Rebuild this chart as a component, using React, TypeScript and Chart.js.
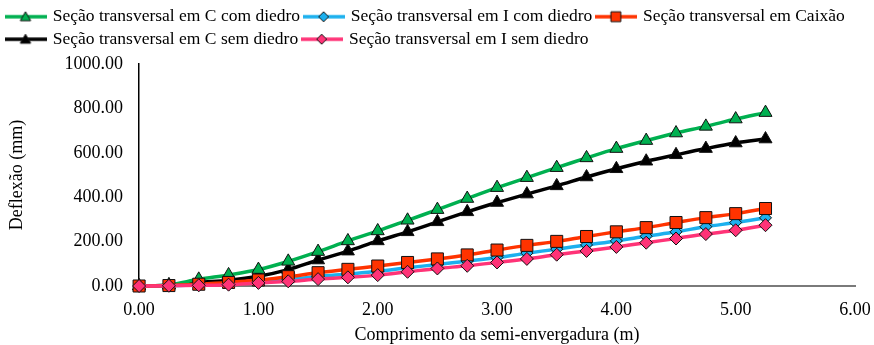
import React, { useEffect, useRef } from "react";
import { Chart, registerables } from "chart.js";
Chart.register(...registerables);

const xValues = [0, 0.25, 0.5, 0.75, 1.0, 1.25, 1.5, 1.75, 2.0, 2.25, 2.5, 2.75, 3.0, 3.25, 3.5, 3.75, 4.0, 4.25, 4.5, 4.75, 5.0, 5.25];

const cComDiedro = [0, 5, 30, 50, 74, 111, 155, 203, 248, 296, 344, 394, 443, 488, 533, 577, 619, 655, 689, 719, 752, 781];
const iComDiedro = [0, 1, 5, 10, 19, 29, 43, 54, 66, 82, 97, 112, 128, 148, 166, 185, 203, 224, 244, 267, 286, 307];
const caixao = [0, 2, 8, 16, 27, 42, 60, 75, 90, 106, 122, 140, 162, 183, 201, 223, 244, 263, 286, 308, 326, 349];
const cSemDiedro = [0, 3, 16, 26, 44, 74, 117, 157, 203, 244, 289, 334, 376, 414, 451, 491, 528, 562, 591, 619, 644, 662];
const iSemDiedro = [0, 1, 3, 6, 14, 21, 31, 39, 49, 64, 79, 91, 106, 122, 141, 158, 176, 195, 214, 234, 251, 274];

const seriesLabels = [
  "Seção transversal em C com diedro",
  "Seção transversal em I com diedro",
  "Seção transversal em Caixão",
  "Seção transversal em C sem diedro",
  "Seção transversal em I sem diedro",
];

const FONT = "'Liberation Serif', 'Times New Roman', serif";
const FS = 18;

function drawShape(ctx: CanvasRenderingContext2D, style: string, x: number, y: number, r: number) {
  ctx.beginPath();
  if (style === "triangle") {
    ctx.moveTo(x, y - r);
    ctx.lineTo(x + r * 0.866, y + r * 0.5);
    ctx.lineTo(x - r * 0.866, y + r * 0.5);
    ctx.closePath();
  } else if (style === "rect") {
    const s = r * Math.SQRT1_2;
    ctx.rect(x - s, y - s, 2 * s, 2 * s);
  } else {
    ctx.moveTo(x, y - r);
    ctx.lineTo(x + r, y);
    ctx.lineTo(x, y + r);
    ctx.lineTo(x - r, y);
    ctx.closePath();
  }
  ctx.fill();
  ctx.stroke();
}

function makeIcon(color: string, fill: string, style: string, r: number) {
  const c = document.createElement("canvas");
  c.width = 42;
  c.height = 16;
  const ctx = c.getContext("2d")!;
  ctx.strokeStyle = color;
  ctx.lineWidth = 3.5;
  ctx.beginPath();
  ctx.moveTo(0, 8);
  ctx.lineTo(42, 8);
  ctx.stroke();
  ctx.fillStyle = fill;
  ctx.strokeStyle = "#111";
  ctx.lineWidth = 1;
  drawShape(ctx, style, 21, style === "triangle" ? 9 : 8, r);
  return c;
}

const legendSpacer = {
  id: "legendSpacer",
  beforeInit(chart: any) {
    const legend = chart.legend;
    if (!legend) return;
    const origFit = legend.fit;
    legend.fit = function () {
      origFit.call(this);
      this.height += 6;
    };
  },
};

export default function App() {
  const ref = useRef<HTMLCanvasElement>(null);
  useEffect(() => {
    document.body.style.margin = "0";
    const defs = [
      { values: cComDiedro, color: "#00B050", fill: "#00B050", style: "triangle", radius: 7.5, order: 3, lr: 6 },
      { values: iComDiedro, color: "#1CB0EE", fill: "#1CB0EE", style: "rectRot", radius: 6, order: 2, lr: 5 },
      { values: caixao, color: "#FF3300", fill: "#FF3300", style: "rect", radius: 8.5, order: 1, lr: 7 },
      { values: cSemDiedro, color: "#000000", fill: "#000000", style: "triangle", radius: 7.5, order: 4, lr: 6 },
      { values: iSemDiedro, color: "#FF3377", fill: "#FF3377", style: "rectRot", radius: 6.5, order: 0, lr: 5 },
    ];
    const icons = defs.map((d) => makeIcon(d.color, d.fill, d.style, d.lr));
    const chart = new Chart(ref.current!, {
      type: "line",
      plugins: [legendSpacer],
      data: {
        datasets: defs.map((d, i) => ({
          label: seriesLabels[i],
          data: xValues.map((x, j) => ({ x, y: d.values[j] })),
          borderColor: d.color,
          backgroundColor: d.fill,
          pointBackgroundColor: d.fill,
          pointBorderColor: "#111",
          pointBorderWidth: 1,
          pointStyle: d.style as any,
          pointRadius: d.radius,
          borderWidth: 3.5,
          tension: 0.35,
          order: d.order,
          clip: false as any,
        })),
      },
      options: {
        animation: false,
        responsive: false,
        layout: { padding: { left: 2, right: 2, top: 3, bottom: 0 } },
        plugins: {
          tooltip: { enabled: false },
          legend: {
            position: "top",
            align: "start",
            labels: {
              font: { family: FONT, size: 17.5 },
              color: "#000",
              usePointStyle: true,
              pointStyleWidth: 37,
              padding: 5,
              sort: (a: any, b: any) => a.datasetIndex - b.datasetIndex,
              generateLabels: (ch: any) => {
                const items = (Chart.defaults.plugins.legend.labels as any).generateLabels(ch);
                return items.map((it: any) => ({ ...it, pointStyle: icons[it.datasetIndex] }));
              },
            },
          },
        },
        scales: {
          x: {
            type: "linear",
            min: 0,
            max: 6,
            afterFit: (scale: any) => {
              scale.paddingRight = 19;
            },
            ticks: {
              stepSize: 1,
              callback: (v: any) => Number(v).toFixed(2),
              font: { family: FONT, size: FS },
              color: "#000",
              padding: 13.4,
            },
            grid: { display: false, drawTicks: false },
            border: { display: true, color: "#7a7a7a", width: 2 },
            title: {
              display: true,
              text: "Comprimento da semi-envergadura (m)",
              font: { family: FONT, size: FS },
              color: "#000",
              padding: { top: -10, bottom: -1 },
            },
          },
          y: {
            min: 0,
            max: 1000,
            ticks: {
              stepSize: 200,
              callback: (v: any) => Number(v).toFixed(2),
              font: { family: FONT, size: FS },
              color: "#000",
              padding: 16,
            },
            grid: { display: false, drawTicks: false },
            border: { display: true, color: "#000", width: 1.5 },
            title: {
              display: true,
              text: "Deflexão (mm)",
              font: { family: FONT, size: FS },
              color: "#000",
              padding: { top: 4, bottom: 21 },
            },
          },
        },
      },
    });
    return () => chart.destroy();
  }, []);
  return <canvas ref={ref} width={874} height={345} style={{ display: "block" }} />;
}
